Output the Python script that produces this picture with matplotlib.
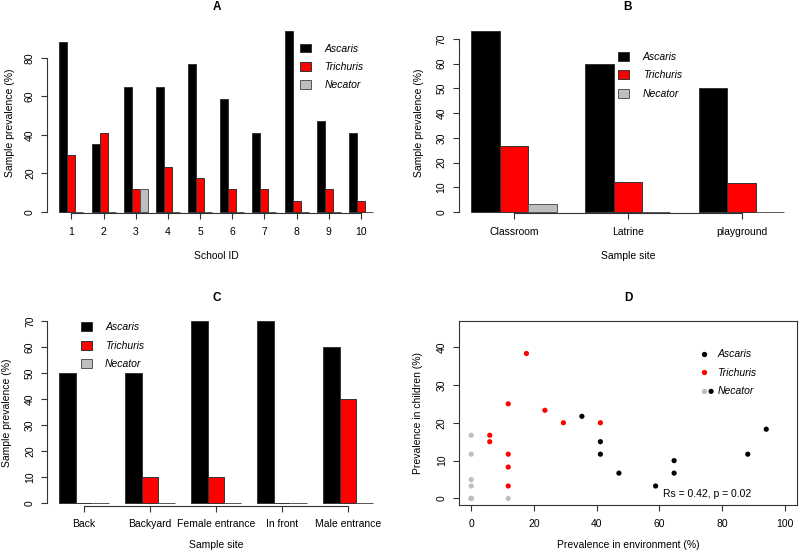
import matplotlib
matplotlib.use('Agg')
import matplotlib.pyplot as plt
from matplotlib.patches import Patch
from matplotlib.lines import Line2D

plt.rcParams['font.family'] = ['Liberation Sans', 'DejaVu Sans']

W, H = 800, 554
DPI = 100

# ---------------- data ----------------
series_names = ['Ascaris', 'Trichuris', 'Necator']

a_schools = ['1', '2', '3', '4', '5', '6', '7', '8', '9', '10']
a_ascaris = [88.2, 35.3, 64.7, 64.7, 76.5, 58.8, 41.2, 94.1, 47.1, 41.2]
a_trichuris = [29.4, 41.2, 11.8, 23.5, 17.6, 11.8, 11.8, 5.9, 11.8, 5.9]
a_necator = [0, 0, 11.8, 0, 0, 0, 0, 0, 0, 0]

b_sites = ['Classroom', 'Latrine', 'playground']
b_ascaris = [73.3, 60.0, 50.0]
b_trichuris = [26.7, 12.0, 11.8]
b_necator = [3.3, 0, 0]

c_sites = ['Back', 'Backyard', 'Female entrance', 'In front', 'Male entrance']
c_ascaris = [50, 50, 70, 70, 60]
c_trichuris = [0, 10, 10, 0, 40]
c_necator = [0, 0, 0, 0, 0]

d_asc_env = [88.2, 35.3, 64.7, 64.7, 76.5, 58.8, 41.2, 94.1, 47.1, 41.2]
d_asc_child = [11.7, 21.7, 10.0, 6.7, 28.3, 3.3, 15.0, 18.3, 6.7, 11.7]
d_tri_env = [29.4, 41.2, 11.8, 23.5, 17.6, 11.8, 11.8, 5.9, 11.8, 5.9]
d_tri_child = [20.0, 20.0, 25.0, 23.3, 38.3, 11.7, 8.3, 16.7, 3.3, 15.0]
d_nec_env = [0, 0, 11.8, 0, 0, 0, 0, 0, 0, 0]
d_nec_child = [16.7, 11.7, 0.0, 5.0, 3.3, 0, 0, 0, 0, 0]
d_stat = 'Rs = 0.42, p = 0.02'

bar_colors = ['black', '#FF0000', '#BEBEBE']
bar_edges = ['#333333', '#333333', '#555555']
pt_colors = ['black', '#FF0000', '#BEBEBE']

FS = 7.5
AXC = '#333333'


def fx(x):
    return x / W


def fy(y):
    return 1 - y / H


def rect(x0, x1, yt, yb):
    return [x0 / W, 1 - yb / H, (x1 - x0) / W, (yb - yt) / H]


fig = plt.figure(figsize=(W / DPI, H / DPI), dpi=DPI)
fig.patch.set_facecolor('white')


def style_ticks(ax):
    ax.tick_params(direction='out', length=4.2, width=0.8, color=AXC,
                   labelsize=FS)
    ax.tick_params(axis='x', pad=5.4)
    ax.tick_params(axis='y', pad=4.3)
    for lab in ax.get_yticklabels():
        lab.set_rotation(90)
        lab.set_va('center')
        lab.set_ha('right')


def bar_panel(r, cats, vals, ylim, yticks, ylabel_pos, xlabel_pos, title_pos,
              title, xlabel, leg_pos):
    ax = fig.add_axes(r)
    n = len(cats)
    for k, (v, c, e) in enumerate(zip(vals, bar_colors, bar_edges)):
        xs = [4 * g + 1.5 + k for g in range(n)]
        ax.bar(xs, v, width=1.0, color=c, edgecolor=e, linewidth=0.7, zorder=2)
    span = 4 * n - 1
    ax.set_xlim(1 - 0.04 * span, 4 * n + 0.04 * span)
    ax.set_ylim(*ylim)
    ticks = [4 * g + 2.5 for g in range(n)]
    ax.set_xticks(ticks, cats)
    ax.set_yticks(yticks, [str(t) for t in yticks])
    for s in ['top', 'right']:
        ax.spines[s].set_visible(False)
    ax.spines['left'].set_bounds(yticks[0], yticks[-1])
    ax.spines['bottom'].set_bounds(ticks[0], ticks[-1])
    for s in ['left', 'bottom']:
        ax.spines[s].set_color(AXC)
        ax.spines[s].set_linewidth(0.8)
    style_ticks(ax)
    fig.text(fx(title_pos[0]), fy(title_pos[1]), title, ha='center', va='center',
             fontsize=8.5, fontweight='bold')
    fig.text(fx(xlabel_pos[0]), fy(xlabel_pos[1]), xlabel, ha='center', va='center',
             fontsize=FS)
    fig.text(fx(ylabel_pos[0]), fy(ylabel_pos[1]), 'Sample prevalence (%)',
             ha='center', va='center', rotation=90, fontsize=FS)
    handles = [Patch(facecolor=c, edgecolor=e, linewidth=0.7)
               for c, e in zip(bar_colors, bar_edges)]
    ax.legend(handles, series_names, loc='upper left',
              bbox_to_anchor=(fx(leg_pos[0]), fy(leg_pos[1])),
              bbox_transform=fig.transFigure, frameon=False,
              borderpad=0, borderaxespad=0, handlelength=1.05,
              handleheight=0.95, handletextpad=1.3, labelspacing=0.8,
              prop={'size': FS, 'style': 'italic'})
    return ax


# Panel A
bar_panel(rect(46.8, 385.5, 30.5, 213.3), a_schools,
          [a_ascaris, a_trichuris, a_necator], (-0.67, 94.1), [0, 20, 40, 60, 80],
          (10, 123), (216.5, 256), (216.5, 7.5), 'A', 'School ID', (300, 43.5))

# Panel B
bar_panel(rect(458.5, 797, 30, 213.3), b_sites,
          [b_ascaris, b_trichuris, b_necator], (-0.53, 73.6),
          [0, 10, 20, 30, 40, 50, 60, 70],
          (419, 123), (628, 256), (628, 7.5), 'B', 'Sample site', (618.3, 52))

# Panel C
bar_panel(rect(46.8, 385.5, 321.3, 505.7), c_sites,
          [c_ascaris, c_trichuris, c_necator], (-0.92, 70),
          [0, 10, 20, 30, 40, 50, 60, 70],
          (7, 413), (216.5, 545.3), (216.5, 297.7), 'C', 'Sample site', (80.7, 322.3))

# Panel D
axd = fig.add_axes(rect(458.7, 797.3, 321.3, 505.3))
for env, child, c in zip([d_asc_env, d_tri_env, d_nec_env],
                         [d_asc_child, d_tri_child, d_nec_child], pt_colors):
    axd.scatter(env, child, s=14, color=c, edgecolors='none', zorder=3)
axd.set_xlim(-4, 104)
axd.set_ylim(-1.8, 46.8)
axd.set_xticks([0, 20, 40, 60, 80, 100], ['0', '20', '40', '60', '80', '100'])
axd.set_yticks([0, 10, 20, 30, 40], ['0', '10', '20', '30', '40'])
for s in axd.spines.values():
    s.set_color(AXC)
    s.set_linewidth(0.8)
style_ticks(axd)
fig.text(fx(628), fy(297.7), 'D', ha='center', va='center', fontsize=8.5,
         fontweight='bold')
fig.text(fx(628), fy(545.3), 'Prevalence in environment (%)', ha='center',
         va='center', fontsize=FS)
fig.text(fx(418.3), fy(413), 'Prevalence in children (%)', ha='center',
         va='center', rotation=90, fontsize=FS)
fig.text(fx(706.7), fy(494.3), d_stat, ha='center', va='center', fontsize=FS)
hd = [Line2D([], [], linestyle='none', marker='o', markersize=3.8,
             markerfacecolor=c, markeredgecolor='none') for c in pt_colors]
axd.legend(hd, series_names, loc='upper left',
           bbox_to_anchor=(fx(699), fy(349.5)), bbox_transform=fig.transFigure,
           frameon=False, borderpad=0, borderaxespad=0, handlelength=0.9,
           handletextpad=0.85, labelspacing=0.8,
           prop={'size': FS, 'style': 'italic'})

fig.savefig('out.png', dpi=DPI, facecolor='white')
